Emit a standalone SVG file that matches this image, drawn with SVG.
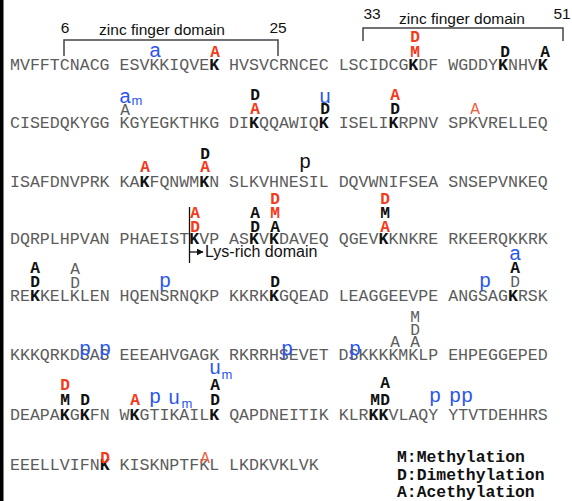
<svg xmlns="http://www.w3.org/2000/svg" width="572" height="501" viewBox="0 0 572 501">
  <style>
    .seq { font-family: "Liberation Mono", "Courier New", monospace; font-size: 16.6px; fill: #5c5c5c; }
    .seq .b { font-weight: bold; fill: #111; }
    .an { font-family: "Liberation Mono", "Courier New", monospace; font-size: 16.2px; text-anchor: middle; }
    .r { font-weight: bold; fill: #f43a1a; }
    .k { font-weight: bold; fill: #111; }
    .g { fill: #5c5c5c; }
    .lr { fill: #f0603f; }
    .bl { font-family: "Liberation Sans", Arial, sans-serif; font-size: 20px; fill: #2a55f0; text-anchor: middle; }
    .pk { font-family: "Liberation Sans", Arial, sans-serif; font-size: 20px; fill: #111; text-anchor: middle; }
    .sub { font-family: "Liberation Sans", Arial, sans-serif; font-size: 13px; fill: #2a55f0; text-anchor: middle; }
    .lbl { font-family: "Liberation Sans", Arial, sans-serif; font-size: 15.5px; fill: #111; text-anchor: middle; }
    .leg { font-family: "Liberation Mono", "Courier New", monospace; font-size: 16.4px; font-weight: bold; fill: #111; }
    .line { fill: none; stroke: #444; stroke-width: 1.5; }
  </style>
  <defs>
    <marker id="arrow" viewBox="0 0 10 10" refX="9" refY="5" markerWidth="7" markerHeight="7" orient="auto" markerUnits="userSpaceOnUse">
      <path d="M0,0 L10,5 L0,10 z" fill="#111"/>
    </marker>
  </defs>

  <rect x="0" y="0" width="3.5" height="501" fill="#000"/>

  <!-- domain brackets and Lys-rich marker -->
  <g id="connectors">
    <path class="line" d="M64,56 V40 H278 V56"/>
    <path class="line" d="M363,41 V28 H563 V41"/>
    <path d="M189.5,207 V263" stroke="#111" stroke-width="1.3" fill="none"/>
    <path d="M189.5,252 H203" stroke="#111" stroke-width="1.3" fill="none" marker-end="url(#arrow)"/>
  </g>

  <g id="domain-labels">
    <text class="lbl" x="65" y="33">6</text>
    <text class="lbl" x="162" y="35">zinc finger domain</text>
    <text class="lbl" x="278" y="33">25</text>
    <text class="lbl" x="372" y="19">33</text>
    <text class="lbl" x="462" y="24">zinc finger domain</text>
    <text class="lbl" x="562" y="19">51</text>
    <text x="205" y="257" font-family="Liberation Sans, Arial, sans-serif" font-size="16" fill="#111">Lys-rich domain</text>
  </g>

  <g id="row1">
    <text class="seq" x="10" y="70" xml:space="preserve">MVFFTCNACG ESVKKIQVE<tspan class="b">K</tspan> HVSVCRNCEC LSCIDCG<tspan class="b">K</tspan>DF WGDDY<tspan class="b">K</tspan>NHV<tspan class="b">K</tspan></text>
    <text class="bl" x="155" y="57">a</text>
    <text class="an r" x="215" y="57">A</text>
    <text class="an r" x="415" y="57">M</text>
    <text class="an r" x="415" y="42">D</text>
    <text class="an k" x="505" y="57">D</text>
    <text class="an k" x="545" y="57">A</text>
  </g>

  <g id="row2">
    <text class="seq" x="10" y="128" xml:space="preserve">CISEDQKYGG KGYEGKTHKG DI<tspan class="b">K</tspan>QQAWIQ<tspan class="b">K</tspan> ISELI<tspan class="b">K</tspan>RPNV SPKVRELLEQ</text>
    <text class="an g" x="125" y="115">A</text>
    <text class="bl" x="125" y="103">a</text>
    <text class="sub" x="137" y="105">m</text>
    <text class="an r" x="255" y="114">A</text>
    <text class="an k" x="255" y="100">D</text>
    <text class="an k" x="325" y="114">D</text>
    <text class="bl" x="325" y="103">u</text>
    <text class="an k" x="395" y="114">D</text>
    <text class="an r" x="395" y="100">A</text>
    <text class="an lr" x="475" y="114">A</text>
  </g>

  <g id="row3">
    <text class="seq" x="10" y="187" xml:space="preserve">ISAFDNVPRK KA<tspan class="b">K</tspan>FQNWM<tspan class="b">K</tspan>N SLKVHNESIL DQVWNIFSEA SNSEPVNKEQ</text>
    <text class="an r" x="145" y="172">A</text>
    <text class="an r" x="205" y="172">A</text>
    <text class="an k" x="205" y="159">D</text>
    <text class="pk" x="305" y="168">p</text>
  </g>

  <g id="row4">
    <text class="seq" x="10" y="244" xml:space="preserve">DQRPLHPVAN PHAEIST<tspan class="b">K</tspan>VP AS<tspan class="b">K</tspan>V<tspan class="b">K</tspan>DAVEQ QGEV<tspan class="b">K</tspan>KNKRE RKEERQKKRK</text>
    <text class="an r" x="195" y="232">D</text>
    <text class="an r" x="195" y="218">A</text>
    <text class="an k" x="255" y="232">D</text>
    <text class="an k" x="255" y="218">A</text>
    <text class="an k" x="275" y="232">A</text>
    <text class="an r" x="275" y="218">M</text>
    <text class="an r" x="275" y="204">D</text>
    <text class="an r" x="385" y="232">A</text>
    <text class="an k" x="385" y="218">M</text>
    <text class="an r" x="385" y="204">D</text>
  </g>

  <g id="row5">
    <text class="seq" x="10" y="301" xml:space="preserve">RE<tspan class="b">K</tspan>KELKLEN HQENSRNQKP KKRK<tspan class="b">K</tspan>GQEAD LEAGGEEVPE ANGSAG<tspan class="b">K</tspan>RSK</text>
    <text class="an k" x="35" y="287">D</text>
    <text class="an k" x="35" y="273">A</text>
    <text class="an g" x="75" y="288">D</text>
    <text class="an g" x="75" y="274">A</text>
    <text class="bl" x="165" y="287">p</text>
    <text class="an k" x="275" y="287">D</text>
    <text class="bl" x="485" y="287">p</text>
    <text class="an g" x="515" y="287">D</text>
    <text class="an k" x="515" y="273">A</text>
    <text class="bl" x="515" y="260">a</text>
  </g>

  <g id="row6">
    <text class="seq" x="10" y="360" xml:space="preserve">KKKQRKDSAS EEEAHVGAGK RKRRHSEVET DSKKKKMKLP EHPEGGEPED</text>
    <text class="bl" x="85" y="355">p</text>
    <text class="bl" x="105" y="355">p</text>
    <text class="bl" x="287" y="355">p</text>
    <text class="bl" x="355" y="355">p</text>
    <text class="an g" x="395" y="347">A</text>
    <text class="an g" x="415" y="347">A</text>
    <text class="an g" x="415" y="335">D</text>
    <text class="an g" x="415" y="322">M</text>
  </g>

  <g id="row7">
    <text class="seq" x="10" y="420" xml:space="preserve">DEAPA<tspan class="b">K</tspan>G<tspan class="b">K</tspan>FN W<tspan class="b">K</tspan>GTIKAIL<tspan class="b">K</tspan> QAPDNEITIK KLR<tspan class="b">KK</tspan>VLAQY YTVTDEHHRS</text>
    <text class="an k" x="65" y="405">M</text>
    <text class="an r" x="65" y="390">D</text>
    <text class="an k" x="85" y="405">D</text>
    <text class="an r" x="135" y="405">A</text>
    <text class="bl" x="155" y="403">p</text>
    <text class="bl" x="174" y="404">u</text>
    <text class="sub" x="187" y="408">m</text>
    <text class="an k" x="215" y="405">D</text>
    <text class="an k" x="215" y="390">A</text>
    <text class="bl" x="215" y="374">u</text>
    <text class="sub" x="227" y="379">m</text>
    <text class="an k" x="375" y="405">M</text>
    <text class="an k" x="385" y="405">D</text>
    <text class="an k" x="385" y="388">A</text>
    <text class="bl" x="435" y="402">p</text>
    <text class="bl" x="455" y="402">p</text>
    <text class="bl" x="467" y="402">p</text>
  </g>

  <g id="row8">
    <text class="seq" x="10" y="470" xml:space="preserve">EEELLVIFN<tspan class="b">K</tspan> KISKNPTFKL LKDKVKLVK</text>
    <text class="an r" x="105" y="463">D</text>
    <text class="an lr" x="205" y="463">A</text>
  </g>

  <g id="legend">
    <text class="leg" x="397" y="462">M:Methylation</text>
    <text class="leg" x="397" y="479.5">D:Dimethylation</text>
    <text class="leg" x="397" y="497">A:Acethylation</text>
  </g>
</svg>
